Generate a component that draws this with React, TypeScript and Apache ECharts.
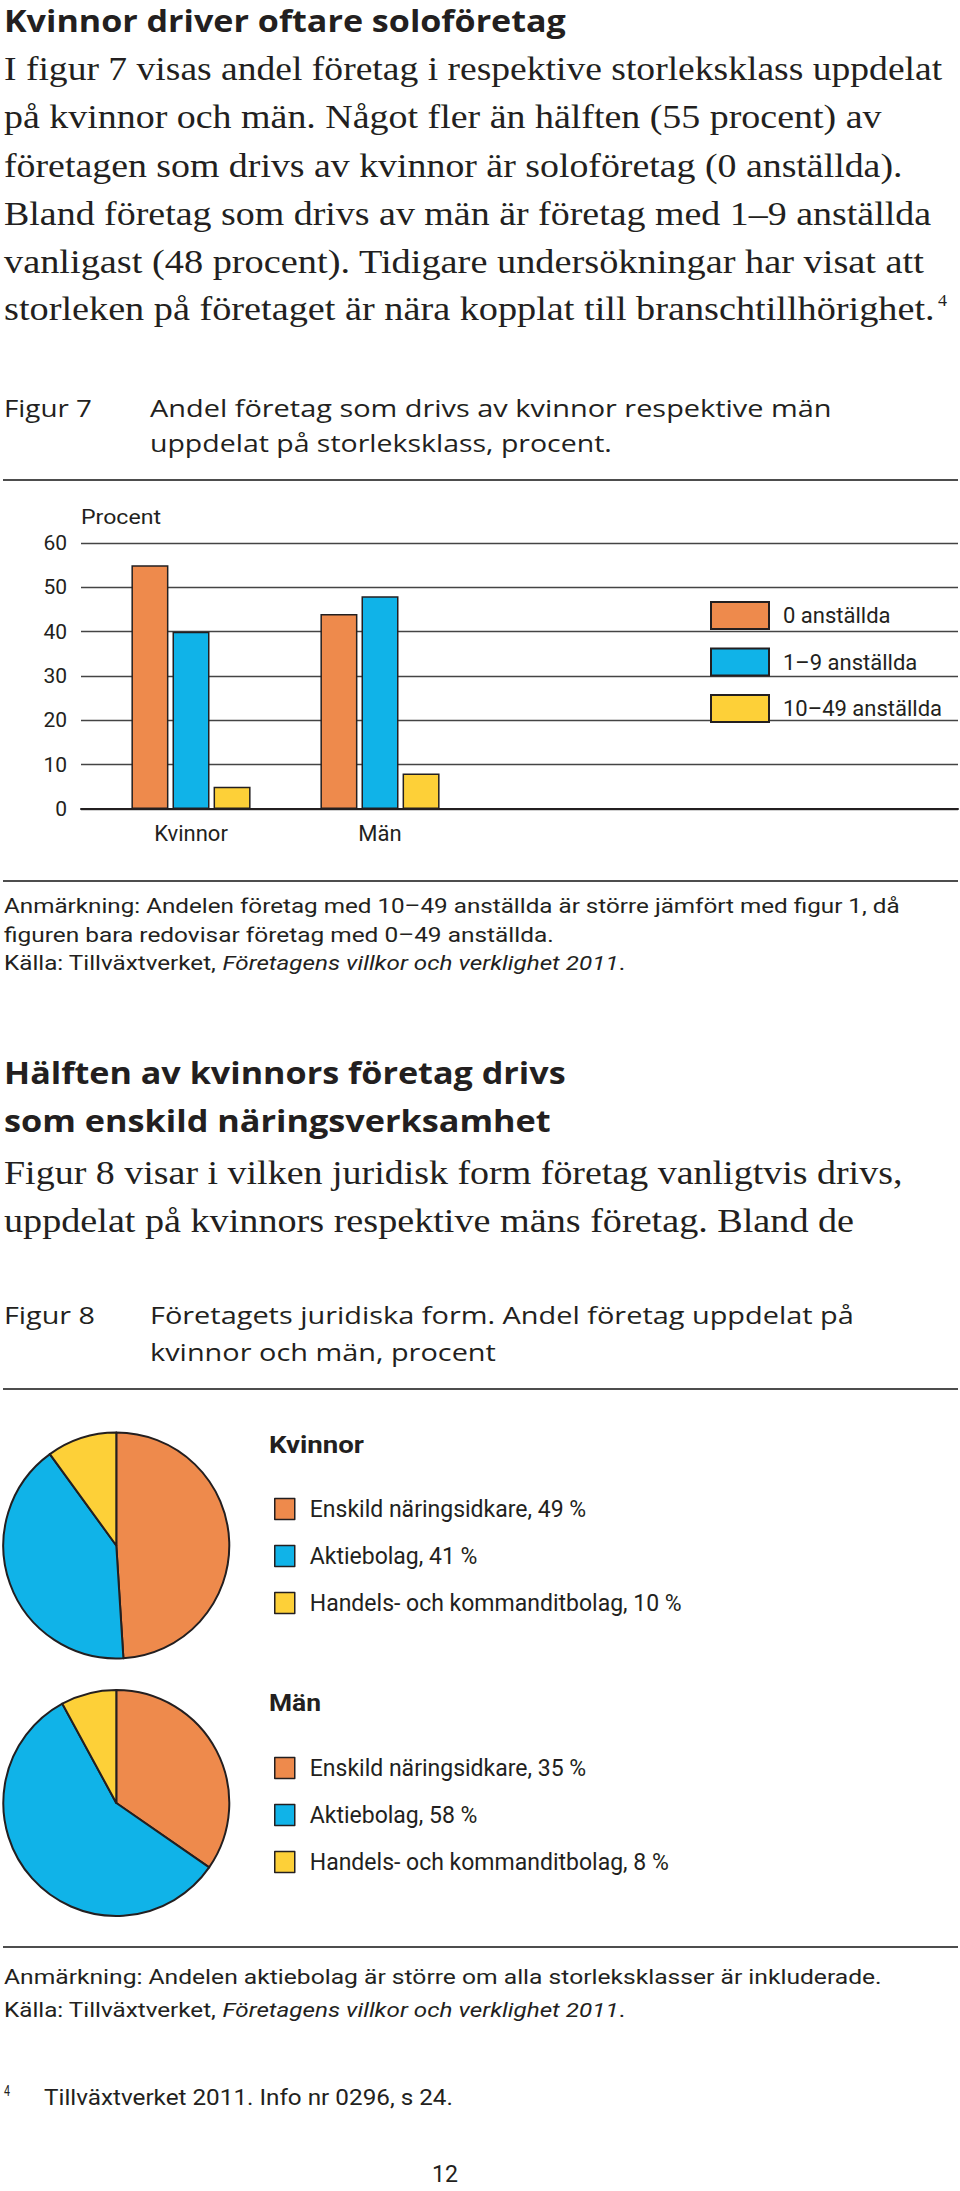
import React, { useEffect, useRef } from 'react';
import * as echarts from 'echarts';

// ---------- data ----------
const barCategories = ['Kvinnor', 'Män'];
const barSeriesNames = ['0 anställda', '1–9 anställda', '10–49 anställda'];
const bar0 = [55, 44];
const bar19 = [40, 48];
const bar1049 = [5, 8];
const yTicks = [0, 10, 20, 30, 40, 50, 60];

const pieNames = ['Enskild näringsidkare', 'Aktiebolag', 'Handels- och kommanditbolag'];
const pieKvinnor = [49, 41, 10];
const pieMan = [35, 58, 8];

// ---------- styles ----------
const ORANGE = '#EE8A4C';
const BLUE = '#10B3E8';
const YELLOW = '#FDD038';
const COLORS = [ORANGE, BLUE, YELLOW];
const INK = '#231f20';
const SERIF = 'Liberation Serif';
const SANS = 'Open Sans';
const LABEL = 'Roboto';

let _ctx: CanvasRenderingContext2D | null = null;
function measure(text: string, size: number, family: string, weight = 'normal', style = 'normal') {
  if (!_ctx) _ctx = document.createElement('canvas').getContext('2d');
  _ctx!.font = `${style} ${weight} ${size}px "${family}"`;
  return _ctx!.measureText(text).width;
}

function line(text: string, x: number, y: number, width: number, size: number, family: string, weight = 'normal', align = 'left') {
  const w = measure(text, size, family, weight);
  return {
    type: 'text',
    x,
    y,
    scaleX: width / w,
    silent: true,
    style: { text, fontSize: size, fontFamily: family, fontWeight: weight, fill: INK, verticalAlign: 'middle', textAlign: align },
  };
}

function kallaLine(x: number, y: number, width: number, size: number) {
  const a = 'Källa: Tillväxtverket, ';
  const b = 'Företagens villkor och verklighet 2011';
  const c = '.';
  const w = measure(a, size, LABEL) + measure(b, size, LABEL, 'normal', 'italic') + measure(c, size, LABEL);
  return {
    type: 'text',
    x,
    y,
    scaleX: width / w,
    silent: true,
    style: {
      text: `{a|${a}}{b|${b}}{a|${c}}`,
      fill: INK,
      verticalAlign: 'middle',
      textAlign: 'left',
      rich: {
        a: { fontSize: size, fontFamily: LABEL, fill: INK },
        b: { fontSize: size, fontFamily: LABEL, fontStyle: 'italic', fill: INK },
      },
    },
  };
}

function hr(y: number) {
  return { type: 'line', silent: true, shape: { x1: 3, y1: y, x2: 958, y2: y }, style: { stroke: '#4d4d4d', lineWidth: 2 } };
}

export default function App() {
  const ref = useRef<HTMLDivElement>(null);
  useEffect(() => {
    if (!ref.current) return;
    const chart = echarts.init(ref.current, null, { renderer: 'svg' });

    const graphics: any[] = [
      line('Kvinnor driver oftare soloföretag', 4, 20, 562, 31, SANS, 'bold'),
      line('I figur 7 visas andel företag i respektive storleksklass uppdelat', 4, 69, 938, 33, SERIF),
      line('på kvinnor och män. Något fler än hälften (55 procent) av', 4, 117, 878, 33, SERIF),
      line('företagen som drivs av kvinnor är soloföretag (0 anställda).', 4, 166, 899, 33, SERIF),
      line('Bland företag som drivs av män är företag med 1–9 anställda', 4, 214, 927, 33, SERIF),
      line('vanligast (48 procent). Tidigare undersökningar har visat att', 4, 262, 921, 33, SERIF),
      line('storleken på företaget är nära kopplat till branschtillhörighet.', 4, 309, 931, 33, SERIF),
      line('4', 938, 301, 9, 16, SERIF),

      line('Figur 7', 4, 408, 88, 23, SANS),
      line('Andel företag som drivs av kvinnor respektive män', 150, 408, 682, 23, SANS),
      line('uppdelat på storleksklass, procent.', 150, 443, 462, 23, SANS),
      hr(480),
      line('Procent', 81, 517, 80, 21, LABEL),

      hr(881),
      line('Anmärkning: Andelen företag med 10–49 anställda är större jämfört med figur 1, då', 4, 906, 896, 21, LABEL),
      line('figuren bara redovisar företag med 0–49 anställda.', 4, 935, 550, 21, LABEL),
      kallaLine(4, 963, 621, 21),

      line('Hälften av kvinnors företag drivs', 4, 1072, 562, 31, SANS, 'bold'),
      line('som enskild näringsverksamhet', 4, 1120, 547, 31, SANS, 'bold'),
      line('Figur 8 visar i vilken juridisk form företag vanligtvis drivs,', 4, 1173, 899, 33, SERIF),
      line('uppdelat på kvinnors respektive mäns företag. Bland de', 4, 1221, 850, 33, SERIF),

      line('Figur 8', 4, 1315, 91, 23, SANS),
      line('Företagets juridiska form. Andel företag uppdelat på', 150, 1315, 704, 23, SANS),
      line('kvinnor och män, procent', 150, 1352, 346, 23, SANS),
      hr(1389),

      line('Kvinnor', 269, 1445, 95, 24, LABEL, 'bold'),
      line('Män', 269, 1703, 52, 24, LABEL, 'bold'),

      hr(1947),
      line('Anmärkning: Andelen aktiebolag är större om alla storleksklasser är inkluderade.', 4, 1977, 878, 21, LABEL),
      kallaLine(4, 2010, 621, 21),

      line('4', 4, 2091, 6, 14, LABEL),
      line('Tillväxtverket 2011. Info nr 0296, s 24.', 44, 2098, 409, 22, LABEL),
      line('12', 445, 2175, 26, 23, LABEL, 'normal', 'center'),
    ];

    const pieLegend = (values: number[], top: number) => ({
      data: pieNames,
      orient: 'vertical',
      left: 269,
      top,
      itemWidth: 20,
      itemHeight: 21,
      itemGap: 24,
      icon: 'rect',
      selectedMode: false,
      formatter: (n: string) => `${n}, ${values[pieNames.indexOf(n)]} %`,
      textStyle: { fontSize: 23, fontFamily: LABEL, color: INK, lineHeight: 21, padding: [0, 0, 0, 10] },
      itemStyle: { borderColor: INK, borderWidth: 1.5 },
    });

    const pieSeries = (values: number[], cy: number) => ({
      type: 'pie',
      center: [116.3, cy],
      radius: 113,
      startAngle: 90,
      clockwise: true,
      silent: true,
      label: { show: false },
      labelLine: { show: false },
      itemStyle: { borderColor: INK, borderWidth: 2 },
      data: pieNames.map((n, i) => ({
        name: n,
        value: values[i],
        itemStyle: { color: COLORS[i], borderColor: INK, borderWidth: 2 },
      })),
    });

    const barSeries = (name: string, data: number[], color: string) => ({
      type: 'bar',
      name,
      xAxisIndex: 1,
      yAxisIndex: 1,
      data,
      barWidth: 37,
      barGap: '11%',
      silent: true,
      itemStyle: { color, borderColor: INK, borderWidth: 1.5 },
    });

    chart.setOption({
      animation: false,
      backgroundColor: '#ffffff',
      grid: [
        { left: 81, right: 2, top: 543, height: 266 },
        { left: 96.5, width: 378, top: 543, height: 266 },
      ],
      xAxis: [
        {
          gridIndex: 0,
          type: 'category',
          data: barCategories,
          axisLine: { show: true, lineStyle: { color: INK, width: 2 } },
          axisTick: { show: false },
          axisLabel: { show: false },
          splitLine: { show: false },
        },
        {
          gridIndex: 1,
          type: 'category',
          data: barCategories,
          axisLine: { show: false },
          axisTick: { show: false },
          axisLabel: { fontSize: 22, fontFamily: LABEL, color: INK, margin: 13 },
        },
      ],
      yAxis: [
        {
          gridIndex: 0,
          type: 'value',
          min: yTicks[0],
          max: yTicks[yTicks.length - 1],
          interval: yTicks[1] - yTicks[0],
          axisLine: { show: false },
          axisTick: { show: false },
          axisLabel: { fontSize: 21, fontFamily: LABEL, color: INK, margin: 14 },
          splitLine: { lineStyle: { color: '#444444', width: 1.4 } },
        },
        {
          gridIndex: 1,
          type: 'value',
          min: yTicks[0],
          max: yTicks[yTicks.length - 1],
          interval: yTicks[1] - yTicks[0],
          show: false,
        },
      ],
      legend: [
        {
          data: barSeriesNames,
          orient: 'vertical',
          left: 705,
          top: 596,
          itemWidth: 58,
          itemHeight: 27,
          itemGap: 17.5,
          icon: 'rect',
          selectedMode: false,
          textStyle: { fontSize: 22, fontFamily: LABEL, color: INK, lineHeight: 27, padding: [0, 0, 0, 9] },
          itemStyle: { borderColor: INK, borderWidth: 2 },
        },
        pieLegend(pieKvinnor, 1492.5),
        pieLegend(pieMan, 1751.5),
      ],
      series: [
        barSeries(barSeriesNames[0], bar0, ORANGE),
        barSeries(barSeriesNames[1], bar19, BLUE),
        barSeries(barSeriesNames[2], bar1049, YELLOW),
        pieSeries(pieKvinnor, 1545.5),
        pieSeries(pieMan, 1803),
      ],
      graphic: graphics,
    });

    return () => chart.dispose();
  }, []);

  return (
    <div
      ref={ref}
      style={{ position: 'absolute', left: 0, top: 0, width: 960, height: 2191, background: '#fff' }}
    />
  );
}
